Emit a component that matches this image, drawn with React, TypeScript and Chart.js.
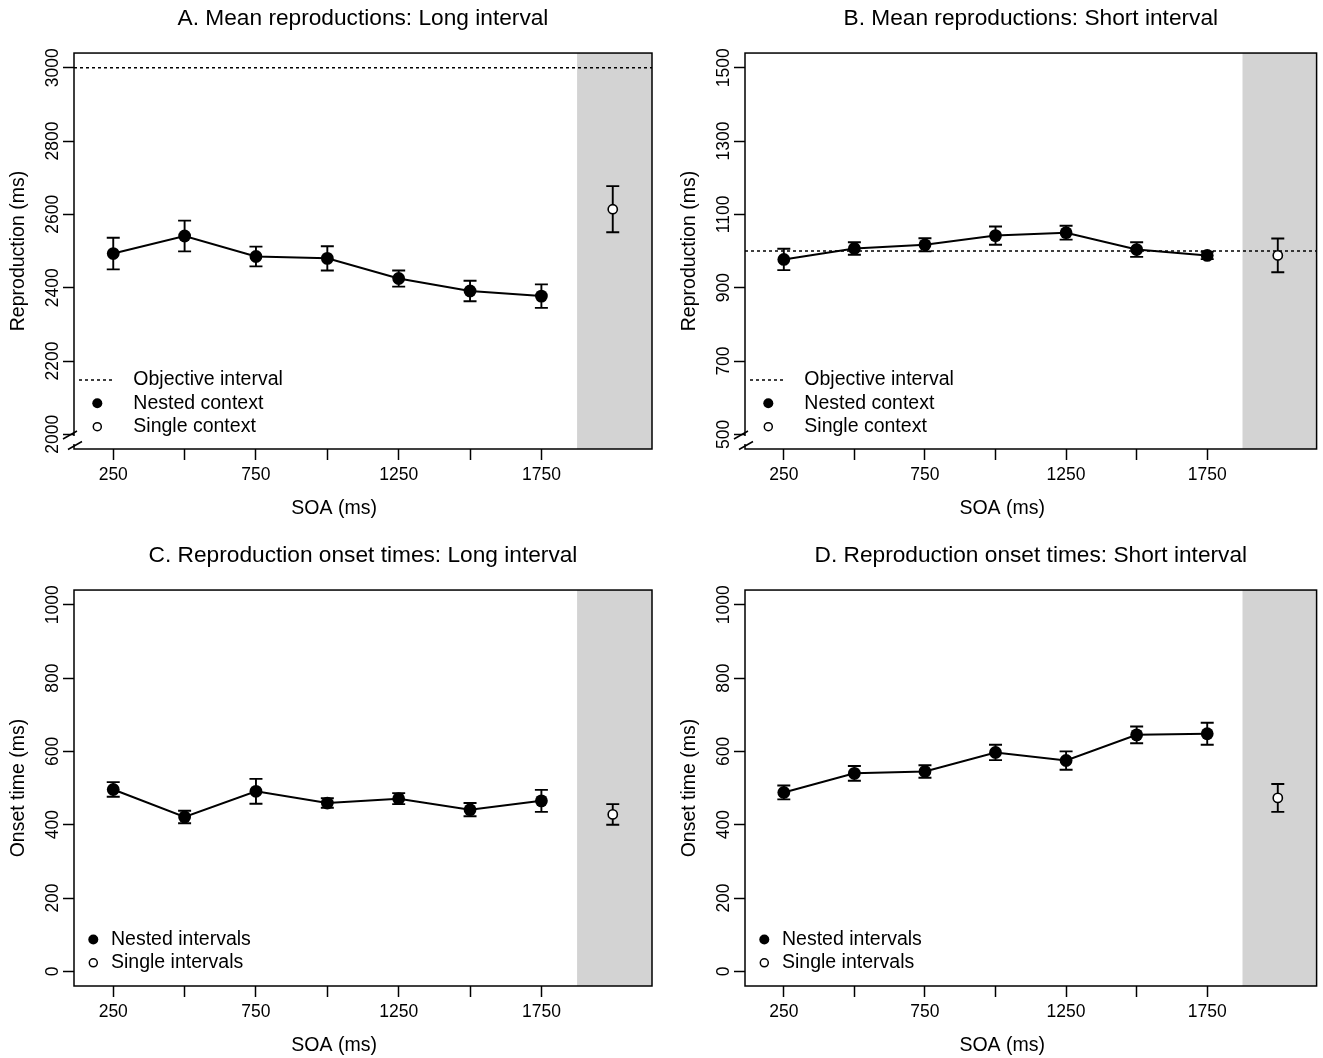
import React, { useEffect, useRef } from 'react';
import { Chart, registerables } from 'chart.js';

Chart.register(...registerables);

const FONT = "'Liberation Sans', Arial, Helvetica, sans-serif";

// ---------- data ----------
const soa = [250, 500, 750, 1000, 1250, 1500, 1750];
const singleSoa = 2000;
const xTickValues = [250, 500, 750, 1000, 1250, 1500, 1750];
const xTickLabels = ['250', '', '750', '', '1250', '', '1750'];
const xAxisLabel = 'SOA (ms)';

const reproLongMean = [2493, 2541, 2485, 2480, 2425, 2391, 2377];
const reproLongErr = [43, 42, 27, 33, 22, 28, 32];
const reproLongSingle = 2614;
const reproLongSingleErr = 63;
const reproLongObjective = 3000;
const reproLongTicks = [2000, 2200, 2400, 2600, 2800, 3000];

const reproShortMean = [977, 1007, 1017, 1042, 1050, 1004, 988];
const reproShortErr = [29, 17, 18, 25, 19, 20, 10];
const reproShortSingle = 988;
const reproShortSingleErr = 46;
const reproShortObjective = 1000;
const reproShortTicks = [500, 700, 900, 1100, 1300, 1500];

const onsetLongMean = [496, 421, 491, 459, 471, 441, 465];
const onsetLongErr = [20, 17, 34, 13, 15, 18, 30];
const onsetLongSingle = 428;
const onsetLongSingleErr = 28;

const onsetShortMean = [488, 540, 545, 597, 575, 645, 648];
const onsetShortErr = [19, 20, 17, 21, 25, 23, 30];
const onsetShortSingle = 473;
const onsetShortSingleErr = 38;

const onsetTicks = [0, 200, 400, 600, 800, 1000];

const legendRepro = ['Objective interval', 'Nested context', 'Single context'];
const legendOnset = ['Nested intervals', 'Single intervals'];

const X_MIN = 112.5;
const X_MAX = 2137.5;
const SHADE_START = 1875;

const TICK_FONT = 17.5;

type Spec = {
  title: string;
  yLabel: string;
  yMin: number;
  yMax: number;
  yTicks: number[];
  mean: number[];
  err: number[];
  single: number;
  singleErr: number;
  objective: number | null;
  legend: string[];
  brk: boolean;
  left: number;
  top: number;
  w: number;
  h: number;
  padRight: number;
};

const panels: Spec[] = [
  {
    title: 'A. Mean reproductions: Long interval', yLabel: 'Reproduction (ms)',
    yMin: 1960, yMax: 3040, yTicks: reproLongTicks, mean: reproLongMean, err: reproLongErr,
    single: reproLongSingle, singleErr: reproLongSingleErr, objective: reproLongObjective,
    legend: legendRepro, brk: true, left: 0, top: 0, w: 662, h: 521, padRight: 10,
  },
  {
    title: 'B. Mean reproductions: Short interval', yLabel: 'Reproduction (ms)',
    yMin: 460, yMax: 1540, yTicks: reproShortTicks, mean: reproShortMean, err: reproShortErr,
    single: reproShortSingle, singleErr: reproShortSingleErr, objective: reproShortObjective,
    legend: legendRepro, brk: true, left: 671, top: 0, w: 652, h: 521, padRight: 1,
  },
  {
    title: 'C. Reproduction onset times: Long interval', yLabel: 'Onset time (ms)',
    yMin: -40, yMax: 1040, yTicks: onsetTicks, mean: onsetLongMean, err: onsetLongErr,
    single: onsetLongSingle, singleErr: onsetLongSingleErr, objective: null,
    legend: legendOnset, brk: false, left: 0, top: 537, w: 662, h: 521, padRight: 10,
  },
  {
    title: 'D. Reproduction onset times: Short interval', yLabel: 'Onset time (ms)',
    yMin: -40, yMax: 1040, yTicks: onsetTicks, mean: onsetShortMean, err: onsetShortErr,
    single: onsetShortSingle, singleErr: onsetShortSingleErr, objective: null,
    legend: legendOnset, brk: false, left: 671, top: 537, w: 652, h: 521, padRight: 1,
  },
];

function makePlugin(spec: Spec) {
  return {
    id: 'panelDecor',
    beforeDatasetsDraw(chart: any) {
      const { ctx, chartArea: a, scales } = chart;
      const x = scales.x;
      const y = scales.y;
      ctx.save();
      const xs = x.getPixelForValue(SHADE_START);
      ctx.fillStyle = '#d3d3d3';
      ctx.fillRect(xs, a.top, a.right - xs, a.bottom - a.top);
      ctx.strokeStyle = '#000';
      ctx.lineWidth = 1.9;
      const bar = (xv: number, m: number, e: number) => {
        const px = x.getPixelForValue(xv);
        const t = y.getPixelForValue(m + e);
        const b = y.getPixelForValue(m - e);
        ctx.beginPath();
        ctx.moveTo(px, t);
        ctx.lineTo(px, b);
        ctx.moveTo(px - 6.5, t);
        ctx.lineTo(px + 6.5, t);
        ctx.moveTo(px - 6.5, b);
        ctx.lineTo(px + 6.5, b);
        ctx.stroke();
      };
      soa.forEach((s, i) => bar(s, spec.mean[i], spec.err[i]));
      bar(singleSoa, spec.single, spec.singleErr);
      ctx.restore();
    },
    afterDraw(chart: any) {
      const { ctx, chartArea: a } = chart;
      ctx.save();
      // box
      ctx.strokeStyle = '#000';
      ctx.lineWidth = 1.5;
      ctx.strokeRect(a.left, a.top, a.right - a.left, a.bottom - a.top);
      // axis break
      if (spec.brk) {
        ctx.fillStyle = '#fff';
        ctx.fillRect(a.left - 2, a.bottom - 13, 4, 8);
        ctx.beginPath();
        ctx.moveTo(a.left - 11, a.bottom - 10);
        ctx.lineTo(a.left + 3, a.bottom - 18);
        ctx.moveTo(a.left - 6, a.bottom + 0.5);
        ctx.lineTo(a.left + 8, a.bottom - 7.5);
        ctx.stroke();
      }
      // x axis label
      ctx.fillStyle = '#000';
      ctx.font = `19.5px ${FONT}`;
      ctx.textAlign = 'center';
      ctx.textBaseline = 'middle';
      ctx.fillText(xAxisLabel, a.left + 0.45 * (a.right - a.left), a.bottom + 60);
      // legend
      const hasLine = spec.legend.length === 3;
      const rowYs = hasLine ? [-69, -45.7, -22.3] : [-46.5, -23.2];
      const markX = hasLine ? a.left + 23.3 : a.left + 19.3;
      const textX = hasLine ? a.left + 59.3 : a.left + 37;
      ctx.textAlign = 'left';
      spec.legend.forEach((label, i) => {
        const yy = a.bottom + rowYs[i];
        const kind = hasLine ? i : i + 1;
        if (kind === 0) {
          ctx.save();
          ctx.setLineDash([3, 3]);
          ctx.lineWidth = 1.5;
          ctx.beginPath();
          ctx.moveTo(a.left + 5, yy);
          ctx.lineTo(a.left + 41, yy);
          ctx.stroke();
          ctx.restore();
        } else if (kind === 1) {
          ctx.beginPath();
          ctx.arc(markX, yy, 5, 0, Math.PI * 2);
          ctx.fillStyle = '#000';
          ctx.fill();
        } else {
          ctx.beginPath();
          ctx.arc(markX, yy, 4, 0, Math.PI * 2);
          ctx.fillStyle = '#fff';
          ctx.fill();
          ctx.lineWidth = 1.5;
          ctx.strokeStyle = '#000';
          ctx.stroke();
        }
        ctx.fillStyle = '#000';
        ctx.fillText(label, textX, yy);
      });
      ctx.restore();
    },
  };
}

function buildConfig(spec: Spec): any {
  const datasets: any[] = [];
  if (spec.objective !== null) {
    datasets.push({
      data: [
        { x: X_MIN, y: spec.objective },
        { x: X_MAX, y: spec.objective },
      ],
      showLine: true,
      borderColor: '#000',
      borderWidth: 1.5,
      borderDash: [3, 3],
      pointRadius: 0,
    });
  }
  datasets.push({
    data: soa.map((s, i) => ({ x: s, y: spec.mean[i] })),
    showLine: true,
    borderColor: '#000',
    borderWidth: 2,
    pointRadius: 6.4,
    pointBackgroundColor: '#000',
    pointBorderColor: '#000',
    pointBorderWidth: 0,
  });
  datasets.push({
    data: [{ x: singleSoa, y: spec.single }],
    showLine: false,
    pointRadius: 4.6,
    pointBackgroundColor: '#fff',
    pointBorderColor: '#000',
    pointBorderWidth: 1.6,
  });
  return {
    type: 'scatter',
    data: { datasets },
    plugins: [makePlugin(spec)],
    options: {
      animation: false,
      responsive: false,
      devicePixelRatio: 1,
      events: [],
      layout: { padding: { left: 0, right: spec.padRight, top: 0, bottom: 0 } },
      plugins: {
        legend: { display: false },
        tooltip: { enabled: false },
        title: {
          display: true,
          text: spec.title,
          fullSize: false,
          color: '#000',
          font: { family: FONT, size: 22.7, weight: 'normal', lineHeight: 1.2 },
          padding: { top: 5.4, bottom: 20.4 },
        },
      },
      scales: {
        x: {
          type: 'linear',
          min: X_MIN,
          max: X_MAX,
          afterBuildTicks: (s: any) => {
            s.ticks = xTickValues.map((v) => ({ value: v }));
          },
          afterFit: (s: any) => {
            s.height = spec.h - 449;
          },
          ticks: {
            autoSkip: false,
            maxRotation: 0,
            minRotation: 0,
            padding: 4.5,
            color: '#000',
            font: { family: FONT, size: TICK_FONT },
            callback: (v: number) => {
              const k = xTickValues.indexOf(v);
              return k >= 0 ? xTickLabels[k] : '';
            },
          },
          grid: {
            drawOnChartArea: false,
            drawTicks: true,
            tickLength: 11,
            tickWidth: 1.5,
            tickColor: '#000',
          },
          border: { display: false },
        },
        y: {
          type: 'linear',
          min: spec.yMin,
          max: spec.yMax,
          afterBuildTicks: (s: any) => {
            s.ticks = spec.yTicks.map((v) => ({ value: v }));
          },
          afterFit: (s: any) => {
            s.width = 74;
          },
          ticks: {
            autoSkip: false,
            minRotation: 90,
            maxRotation: 90,
            crossAlign: 'center',
            padding: -9.5,
            color: '#000',
            font: { family: FONT, size: TICK_FONT },
            callback: (v: number) => String(v),
          },
          grid: {
            drawOnChartArea: false,
            drawTicks: true,
            tickLength: 11,
            tickWidth: 1.5,
            tickColor: '#000',
          },
          border: { display: false },
          title: {
            display: true,
            text: spec.yLabel,
            color: '#000',
            font: { family: FONT, size: 19.5 },
            padding: { top: 7.3, bottom: 0 },
          },
        },
      },
    },
  };
}

function Panel({ spec }: { spec: Spec }) {
  const ref = useRef<HTMLCanvasElement>(null);
  useEffect(() => {
    const canvas = ref.current;
    if (!canvas) return;
    const chart = new Chart(canvas, buildConfig(spec));
    return () => chart.destroy();
  }, [spec]);
  return (
    <canvas
      ref={ref}
      width={spec.w}
      height={spec.h}
      style={{ position: 'absolute', left: spec.left, top: spec.top, width: spec.w, height: spec.h }}
    />
  );
}

export default function App() {
  return (
    <div
      style={{
        position: 'fixed',
        left: 0,
        top: 0,
        width: 1323,
        height: 1058,
        overflow: 'hidden',
        background: '#fff',
      }}
    >
      {panels.map((p) => (
        <Panel key={p.title} spec={p} />
      ))}
    </div>
  );
}
